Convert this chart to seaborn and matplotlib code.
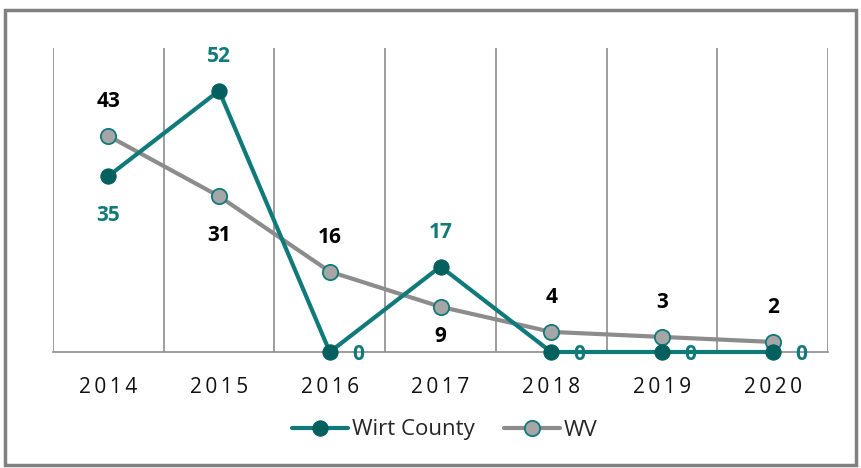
import numpy as np
import pandas as pd
import matplotlib
matplotlib.use("Agg")
import matplotlib.pyplot as plt
import seaborn as sns
from matplotlib.patches import Rectangle

# chart data
years = ["2014", "2015", "2016", "2017", "2018", "2019", "2020"]
wirt = [35, 52, 0, 17, 0, 0, 0]
wv = [43, 31, 16, 9, 4, 3, 2]

# label placement per point
wirt_pos = ["below", "above", "right", "above", "right", "right", "right"]
wv_pos = ["above", "below", "above", "below_near", "above", "above", "above"]

TEAL = "#107a7a"
TEAL_DARK = "#04605f"
GRAY_LINE = "#8c8c8c"
GRAY_FILL = "#a6a6a6"

sns.set_style("white")
plt.rcParams['font.family'] = ['Open Sans', 'DejaVu Sans']

df = pd.DataFrame({"year": years, "x": np.arange(len(years)), "Wirt County": wirt, "WV": wv})

fig = plt.figure(figsize=(8.61, 4.68), dpi=100)
ax = fig.add_axes([53 / 861, 1 - 352 / 468, (828 - 53) / 861, (352 - 48) / 468])

sns.lineplot(data=df, x="x", y="WV", ax=ax, color=GRAY_LINE, linewidth=3,
             marker="o", markersize=11, markerfacecolor=GRAY_FILL,
             markeredgecolor=TEAL, markeredgewidth=1.3, label="WV", zorder=3, clip_on=False)
sns.lineplot(data=df, x="x", y="Wirt County", ax=ax, color=TEAL, linewidth=3,
             marker="o", markersize=11, markerfacecolor=TEAL_DARK,
             markeredgecolor=TEAL_DARK, label="Wirt County", zorder=4, clip_on=False)

ax.set_xlim(-0.5, len(years) - 0.5)
ax.set_ylim(0, 60.5)

# gridlines between categories
ax.set_xticks(np.arange(len(years)))
ax.set_xticklabels(["\u2009".join(y) for y in years], fontsize=15, color="#111111")
ax.set_xticks(np.arange(-0.5, len(years)), minor=True)
ax.tick_params(axis="x", which="major", length=0, pad=18)
ax.tick_params(axis="x", which="minor", length=8, color="#8c8c8c", width=1.2, direction="out")
ax.grid(True, which="minor", axis="x", color="#8c8c8c", linewidth=1.2)
ax.set_yticks([])
ax.set_xlabel("")
ax.set_ylabel("")
for s in ["left", "right", "top"]:
    ax.spines[s].set_visible(False)
ax.spines["bottom"].set_color("#8c8c8c")
ax.spines["bottom"].set_linewidth(1.2)

offsets = {"above": (0, 17, "center", "bottom"), "below": (0, -21, "center", "top"),
           "below_near": (0, -14, "center", "top"), "right": (16, -2, "left", "center")}


def add_labels(vals, pos, color):
    for i, (v, p) in enumerate(zip(vals, pos)):
        dx, dy, ha, va = offsets[p]
        ax.annotate(str(v), (i, v), xytext=(dx, dy), textcoords="offset points",
                    ha=ha, va=va, fontsize=15, fontweight="bold", color=color,
                    annotation_clip=False)


add_labels(wirt, wirt_pos, TEAL)
add_labels(wv, wv_pos, "black")

handles, labels = ax.get_legend_handles_labels()
order = [labels.index("Wirt County"), labels.index("WV")]
ax.legend([handles[i] for i in order], [labels[i] for i in order],
          loc="center", bbox_to_anchor=(445 / 861, 1 - 430 / 468),
          bbox_transform=fig.transFigure, ncol=2, frameon=False, fontsize=16,
          handlelength=2.5, columnspacing=1.3, handletextpad=0.2)

# outer chart border
fig.patches.append(Rectangle((5 / 861, 3 / 468), 851 / 861, 455 / 468, transform=fig.transFigure,
                             fill=False, edgecolor="#808080", linewidth=2.5))

fig.savefig("out.png", dpi=100)
